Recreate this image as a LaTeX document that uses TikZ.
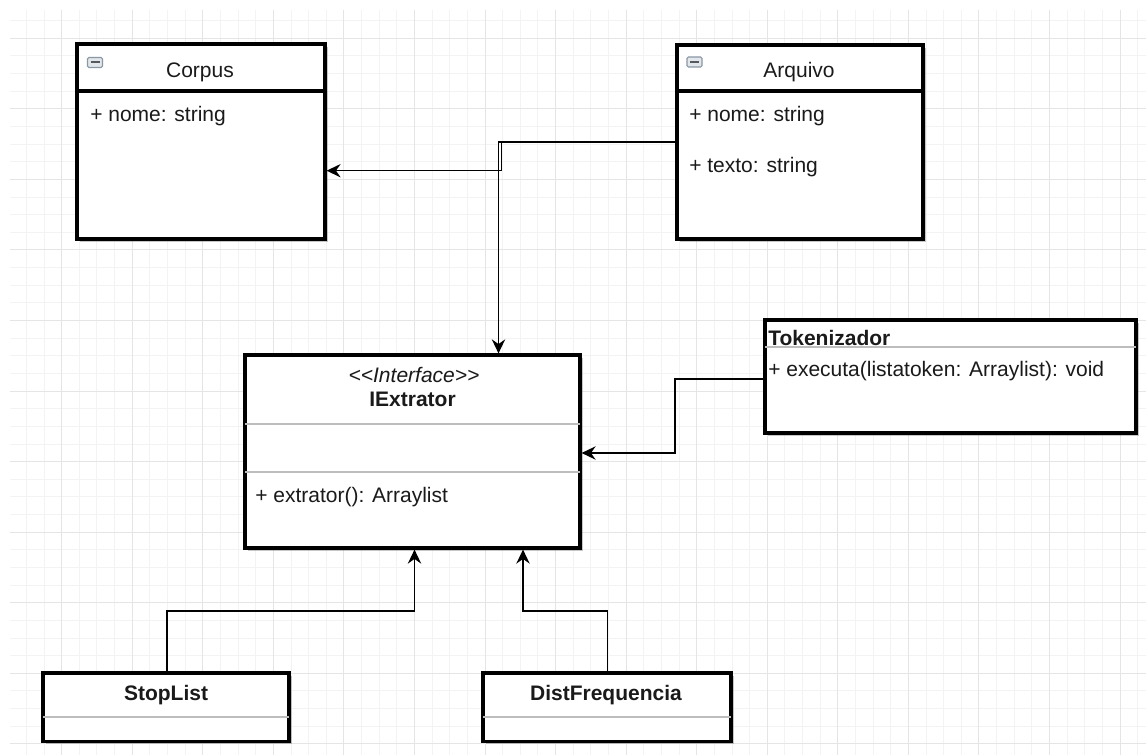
\documentclass[tikz,border=0pt]{standalone}
\usepackage{fontspec}
\setmainfont{Liberation Sans}
\usetikzlibrary{arrows.meta,shadows}
\definecolor{gridminor}{HTML}{F3F3F3}
\definecolor{gridmajor}{HTML}{E5E5E5}
\definecolor{divgray}{HTML}{BDBDBD}
\definecolor{txt}{HTML}{1A1A1A}
\definecolor{iconfill}{HTML}{E2E7EC}
\definecolor{icondraw}{HTML}{8A97A4}
\definecolor{iconminus}{HTML}{555A60}
\begin{document}
\begin{tikzpicture}[x=0.75pt,y=-0.75pt,
  every node/.style={font=\fontsize{15.75pt}{18pt}\selectfont, text=txt, inner sep=0pt},
  umlbox/.style={draw=black, fill=white, line width=2.4pt, inner sep=0pt,
    drop shadow={shadow xshift=2.2pt, shadow yshift=-2.2pt, opacity=0.22, fill=black}},
  hdr/.style={line width=2.4pt, draw=black},
  sepline/.style={line width=1.3pt, draw=divgray},
  conn/.style={line width=1.2pt, draw=black, -{Stealth[length=10.5pt,width=10pt,inset=3.5pt]}},
  cls/.style={font=\fontsize{15.75pt}{18pt}\selectfont\bfseries},
  ifc/.style={font=\fontsize{15.75pt}{18pt}\selectfont\itshape},
  gmin/.style={draw=gridminor, line width=0.75pt},
  gmaj/.style={draw=gridmajor, line width=0.75pt},
  minusicon/.style={draw=icondraw, fill=iconfill, rounded corners=1pt, line width=0.8pt}
]
\useasboundingbox (0,0) rectangle (1146,755);
\fill[white] (0,0) rectangle (1146,755);
% grid
\foreach \i in {0,...,63} \draw[gmin] ({26.42+17.64*\i},10) -- ({26.42+17.64*\i},755);
\foreach \i in {0,...,41} \draw[gmin] (10,{20.66+17.64*\i}) -- (1146,{20.66+17.64*\i});
\foreach \i in {0,...,15} \draw[gmaj] ({61.7+70.56*\i},10) -- ({61.7+70.56*\i},755);
\foreach \i in {0,...,10} \draw[gmaj] (10,{38.3+70.56*\i}) -- (1146,{38.3+70.56*\i});

% boxes
\node[umlbox, minimum width={248*0.75pt}, minimum height={195*0.75pt}] (corpus) at (201,141.5) {};
\node[umlbox, minimum width={246*0.75pt}, minimum height={194*0.75pt}] (arq) at (800,142) {};
\node[umlbox, minimum width={335*0.75pt}, minimum height={193*0.75pt}] (iext) at (412.5,451.5) {};
\node[umlbox, minimum width={371*0.75pt}, minimum height={113*0.75pt}] (tok) at (950.5,376.5) {};
\node[umlbox, minimum width={246*0.75pt}, minimum height={68.5*0.75pt}] (stop) at (166,707.25) {};
\node[umlbox, minimum width={248*0.75pt}, minimum height={68.5*0.75pt}] (dist) at (607,707.25) {};

% dividers
\draw[hdr] (corpus.west |- 0,91) -- (corpus.east |- 0,91);
\draw[hdr] (arq.west |- 0,91) -- (arq.east |- 0,91);
\draw[sepline] ([xshift=1.2pt]iext.west |- 0,424) -- ([xshift=-1.2pt]iext.east |- 0,424);
\draw[sepline] ([xshift=1.2pt]iext.west |- 0,472) -- ([xshift=-1.2pt]iext.east |- 0,472);
\draw[sepline] ([xshift=1.2pt]tok.west |- 0,346.7) -- ([xshift=-1.2pt]tok.east |- 0,346.7);
\draw[sepline] ([xshift=1.2pt]stop.west |- 0,716.7) -- ([xshift=-1.2pt]stop.east |- 0,716.7);
\draw[sepline] ([xshift=1.2pt]dist.west |- 0,716.7) -- ([xshift=-1.2pt]dist.east |- 0,716.7);

% minus icons
\draw[minusicon] (87.5,57.5) rectangle (102.5,67.5);
\draw[iconminus, line width=1.5pt] (90.5,62.5) -- (99.5,62.5);
\draw[minusicon] (687,57) rectangle (702,67);
\draw[iconminus, line width=1.5pt] (690,62) -- (699,62);

% texts
\node[anchor=base] (corpusT) at (200,78) {Corpus};
\node[anchor=base west] (corpusA) at (90,121.5) {+ nome: string};
\node[anchor=base] (arqT) at (799,78) {Arquivo};
\node[anchor=base west] (arqA1) at (689,121.5) {+ nome: string};
\node[anchor=base west] (arqA2) at (689,172.5) {+ texto: string};
\node[anchor=base, ifc] (iextS) at (414,382.5) {<\kern0pt<Interface>\kern0pt>};
\node[anchor=base, cls] (iextT) at (412.5,406.5) {IExtrator};
\node[anchor=base west] (iextA) at (255,503) {+ extrator(): Arraylist};
\node[anchor=base west, cls] (tokT) at (768,346) {Tokenizador};
\node[anchor=base west] (tokA) at (768,377) {+ executa(listatoken: Arraylist): void};
\node[anchor=base, cls] (stopT) at (166,700) {StopList};
\node[anchor=base, cls] (distT) at (606,700) {DistFrequencia};

% connectors
\coordinate (j1) at (501.5,170.7);
\coordinate (j2) at (498.5,300);
\draw[conn] (arq.west) -| (j1) -- (corpus.east |- j1);
\draw[conn] (arq.west) -| (j2 |- iext.north);
\coordinate (t1) at (675,379);
\coordinate (t2) at (675,453);
\draw[conn] (tok.west |- t1) -- (t1) -- (t2) -- (iext.east |- t2);
\coordinate (s1) at (167,611);
\coordinate (s2) at (414.5,611);
\draw[conn] (stop.north -| s1) -- (s1) -- (s2) -- (iext.south -| s2);
\coordinate (d1) at (607.5,611);
\coordinate (d2) at (523,611);
\draw[conn] (dist.north -| d1) -- (d1) -- (d2) -- (iext.south -| d2);
\end{tikzpicture}
\end{document}
